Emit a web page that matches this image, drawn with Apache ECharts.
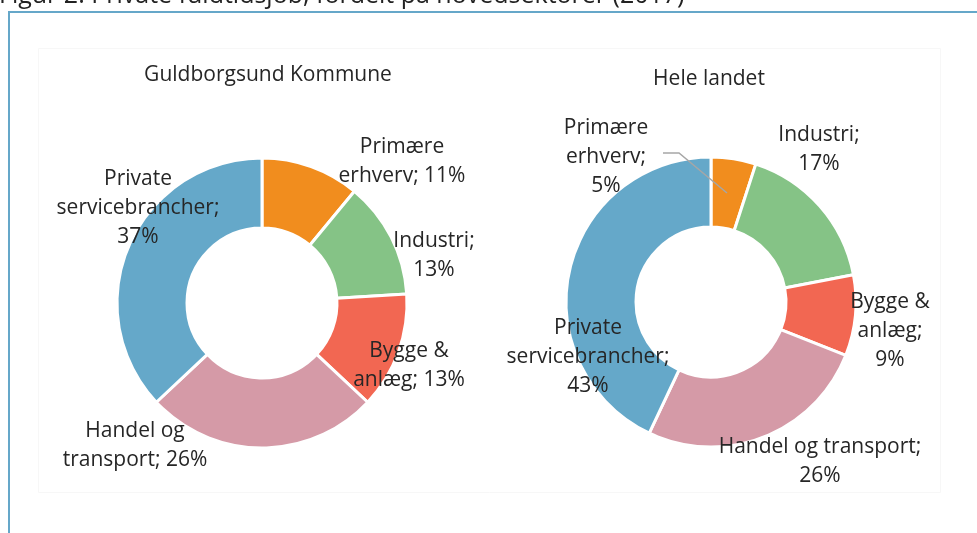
<!DOCTYPE html>
<html>
<head>
<meta charset="utf-8">
<script src="https://cdn.jsdelivr.net/npm/echarts@6/dist/echarts.min.js"></script>
<style>
  html, body { margin: 0; padding: 0; background: #fff; }
  #main { width: 977px; height: 533px; }
</style>
</head>
<body>
<div id="main"></div>
<script>
// sektorer i den rækkefølge de tegnes (med uret fra kl. 12)
var sektorer = ['Primære erhverv', 'Industri', 'Bygge & anlæg', 'Handel og transport', 'Private servicebrancher'];
var farver = ['#F18D1E', '#85C386', '#F26752', '#D59AA7', '#65A8C9'];

// andele i procent
var guldborgsund = [11, 13, 13, 26, 37];
var heleLandet = [5, 17, 9, 26, 43];

// linjeskift i etiketterne som i Excel-figuren
var etiketGuld = ['Primære\nerhverv; ', 'Industri;\n', 'Bygge &\nanlæg; ', 'Handel og\ntransport; ', 'Private\nservicebrancher;\n'];
var etiketLand = ['Primære\nerhverv;\n', 'Industri;\n', 'Bygge &\nanlæg;\n', 'Handel og transport;\n', 'Private\nservicebrancher;\n'];

// etiketternes midtpunkter (px)
var posGuld = [[402, 162], [434, 256], [409, 366], [135, 446], [138, 208]];
var posLand = [[606, 157], [819, 150], [890, 331], [820, 462], [588, 357]];

var myChart = echarts.init(document.getElementById('main'));

function lavData(vaerdier, etiketter) {
    return vaerdier.map(function (v, i) {
        return {
            name: sektorer[i],
            value: v,
            tekst: etiketter[i] + v + '%',
            itemStyle: { color: farver[i] }
        };
    });
}

function lavSerie(vaerdier, etiketter, pos, center) {
    return {
        type: 'pie',
        radius: [75, 145],
        center: center,
        startAngle: 90,
        clockwise: true,
        silent: true,
        animation: false,
        itemStyle: { borderColor: '#fff', borderWidth: 3 },
        label: {
            show: true,
            position: 'inside',
            overflow: 'none',
            formatter: function (p) { return p.data.tekst; },
            fontFamily: 'Open Sans',
            fontSize: 21,
            lineHeight: 29,
            color: '#262626',
            align: 'center'
        },
        labelLine: { show: false },
        labelLayout: function (p) {
            var xy = pos[p.dataIndex];
            return { x: xy[0], y: xy[1], align: 'center', verticalAlign: 'middle' };
        },
        data: lavData(vaerdier, etiketter)
    };
}

var option = {
    backgroundColor: '#fff',
    graphic: [
        {
            type: 'text', left: -1, top: -17,
            style: { text: 'Figur 2: Private fuldtidsjob, fordelt på hovedsektorer (2017)', fontFamily: 'Open Sans', fontSize: 25, fill: '#222' }
        },
        {
            type: 'polyline',
            shape: { points: [[9, 540], [9, 12], [980, 12]] },
            style: { stroke: '#65A7C9', lineWidth: 2, fill: null }
        },
        {
            type: 'rect',
            shape: { x: 38.5, y: 48.5, width: 902, height: 444 },
            style: { stroke: '#F7F7F7', lineWidth: 1, fill: null }
        },
        {
            type: 'text', x: 268, y: 75,
            style: { text: 'Guldborgsund Kommune', fontFamily: 'Open Sans', fontSize: 21, fill: '#262626', align: 'center', verticalAlign: 'middle' }
        },
        {
            type: 'text', x: 709, y: 79,
            style: { text: 'Hele landet', fontFamily: 'Open Sans', fontSize: 21, fill: '#262626', align: 'center', verticalAlign: 'middle' }
        },
        // ledelinje til "Primære erhverv; 5%"
        {
            type: 'polyline', z: 100,
            shape: { points: [[663, 153], [679, 153], [727, 193]] },
            style: { stroke: '#A6A6A6', lineWidth: 1.5, fill: null }
        }
    ],
    series: [
        lavSerie(guldborgsund, etiketGuld, posGuld, [262, 303]),
        lavSerie(heleLandet, etiketLand, posLand, [711, 302])
    ]
};

myChart.setOption(option);
</script>
</body>
</html>
